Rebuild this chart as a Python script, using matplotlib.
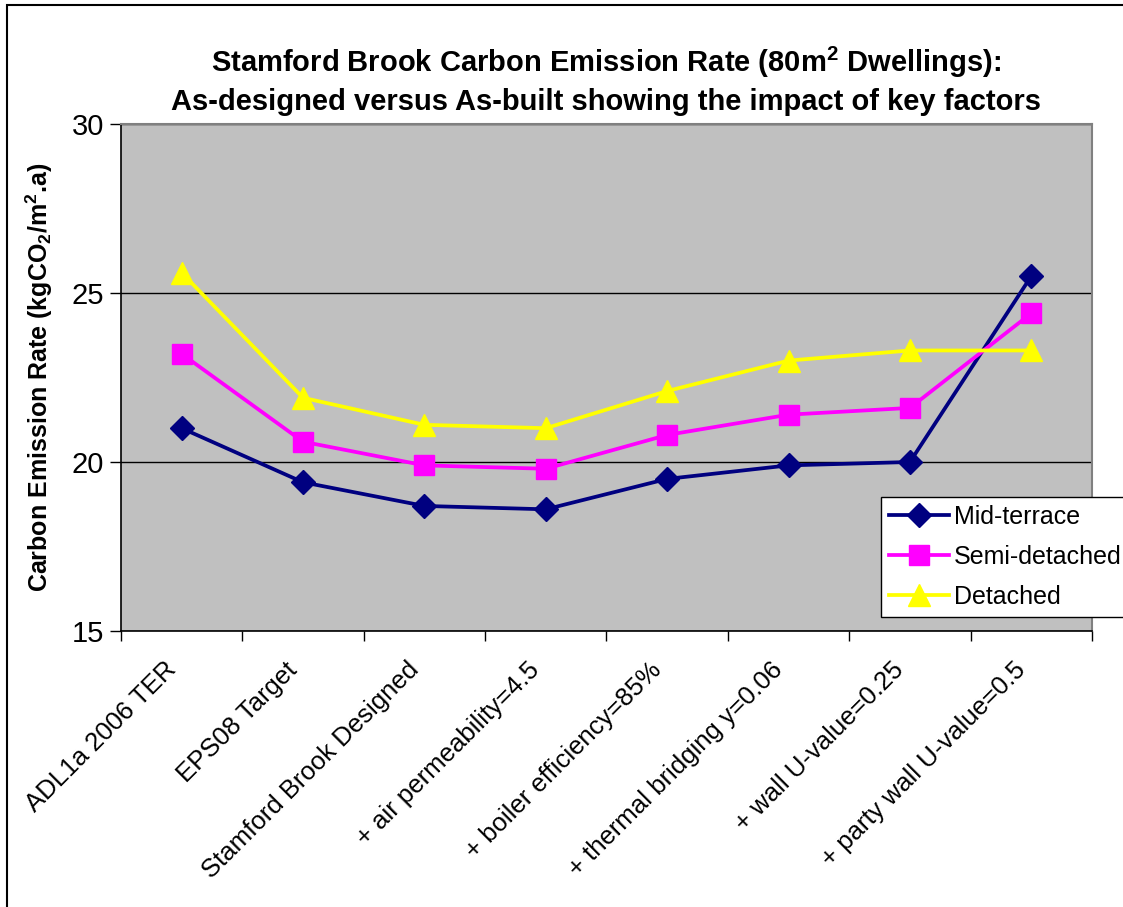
import matplotlib
matplotlib.use("Agg")
import matplotlib.pyplot as plt
from matplotlib.patches import Rectangle
import matplotlib.transforms as mtransforms

plt.rcParams['font.family'] = ['Liberation Sans', 'DejaVu Sans']
plt.rcParams['mathtext.fontset'] = 'custom'
plt.rcParams['mathtext.rm'] = 'Liberation Sans'
plt.rcParams['mathtext.bf'] = 'Liberation Sans:bold'
plt.rcParams['mathtext.it'] = 'Liberation Sans:italic'

categories = ['ADL1a 2006 TER', 'EPS08 Target', 'Stamford Brook Designed',
              '+ air permeability=4.5', '+ boiler efficiency=85%',
              '+ thermal bridging y=0.06', '+ wall U-value=0.25',
              '+ party wall U-value=0.5']
mid_terrace = [21.0, 19.4, 18.7, 18.6, 19.5, 19.9, 20.0, 25.5]
semi_detached = [23.2, 20.6, 19.9, 19.8, 20.8, 21.4, 21.6, 24.4]
detached = [25.6, 21.9, 21.1, 21.0, 22.1, 23.0, 23.3, 23.3]
y_ticks = [15, 20, 25, 30]

fig = plt.figure(figsize=(11.23, 9.07), dpi=100)
ax = fig.add_axes([0.1077, 0.3043, 0.8647, 0.559])
ax.set_facecolor('#C0C0C0')

x = list(range(len(categories)))
ax.plot(x, mid_terrace, color='#000080', lw=2.7, marker='D', ms=12, label='Mid-terrace')
ax.plot(x, semi_detached, color='#FF00FF', lw=2.7, marker='s', ms=14, label='Semi-detached')
ax.plot(x, detached, color='#FFFF00', lw=2.7, marker='^', ms=16, label='Detached')

ax.set_xlim(-0.5, len(categories) - 0.5)
ax.set_ylim(15, 30)
ax.set_yticks(y_ticks)
ax.yaxis.grid(True, color='black', lw=1)
ax.set_axisbelow(True)
ax.tick_params(axis='y', labelsize=21, direction='out', length=8, width=1, pad=4)

# Excel-style ticks between categories, labels at centres
ax.set_xticks([i - 0.5 for i in range(len(categories) + 1)])
ax.set_xticklabels([])
ax.tick_params(axis='x', which='major', direction='out', length=7, width=1)
ax.set_xticks(x, minor=True)
ax.set_xticklabels(categories, minor=True, rotation=45, ha='right', va='top',
                   rotation_mode='anchor', fontsize=18.5)
ax.tick_params(axis='x', which='minor', length=0, pad=12)
shift = mtransforms.ScaledTranslation(-0.18, -0.1, fig.dpi_scale_trans)
for lab in ax.get_xticklabels(minor=True):
    lab.set_transform(lab.get_transform() + shift)

for s in ax.spines.values():
    s.set_color('#808080')
    s.set_linewidth(1.5)
ax.spines['left'].set_color('black')
ax.spines['left'].set_linewidth(1.2)
ax.spines['bottom'].set_color('black')
ax.spines['bottom'].set_linewidth(1.2)

ax.set_ylabel('Carbon Emission Rate (kgCO$_\\mathbf{2}$/m$^\\mathbf{2}$.a)',
              fontsize=18, fontweight='bold', labelpad=12)

fig.text(0.54, 0.931, 'Stamford Brook Carbon Emission Rate (80m$^\\mathbf{2}$ Dwellings):',
         ha='center', va='center', fontsize=21, fontweight='bold')
fig.text(0.54, 0.888, 'As-designed versus As-built showing the impact of key factors',
         ha='center', va='center', fontsize=21, fontweight='bold')

leg = ax.legend(loc='upper left', bbox_to_anchor=(0.783, 0.264), fontsize=18,
                frameon=True, fancybox=False, edgecolor='black', framealpha=1,
                handlelength=2.4, borderpad=0.3, labelspacing=0.65, handletextpad=0.2,
                borderaxespad=0)
leg.get_frame().set_linewidth(1)

fig.patches.append(Rectangle((0.006, -0.02), 1.1, 1.014, transform=fig.transFigure,
                             fill=False, edgecolor='black', lw=1.5))

fig.savefig('out.png', dpi=100)
